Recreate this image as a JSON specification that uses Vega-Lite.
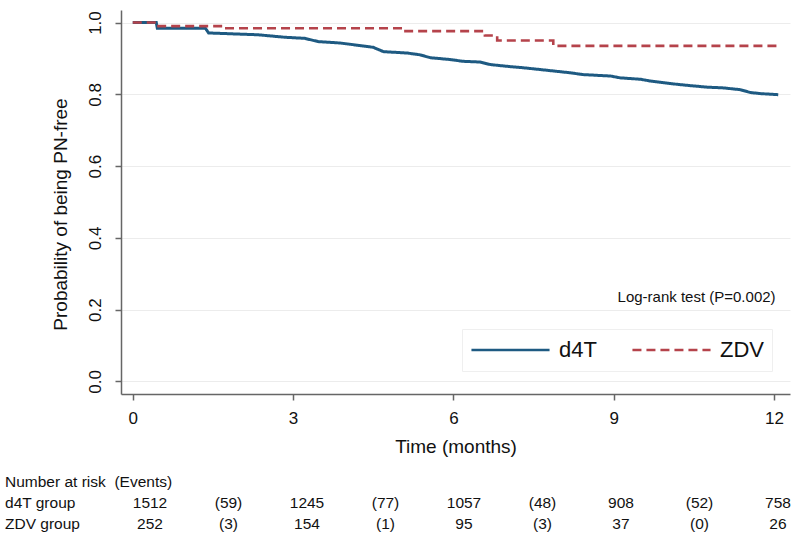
{
  "$schema": "https://vega.github.io/schema/vega-lite/v6.json",
  "background": "white",
  "padding": {"left": 5, "top": 10, "right": 5, "bottom": 2},
  "config": {
    "view": {"stroke": null},
    "font": "Liberation Sans",
    "concat": {"spacing": 16},
    "legend": {
      "orient": "none",
      "legendX": 341,
      "legendY": 319,
      "direction": "horizontal",
      "symbolType": "stroke",
      "symbolSize": 6100,
      "clipHeight": 26,
      "symbolStrokeWidth": 2.6,
      "labelFontSize": 22,
      "labelFont": "Liberation Sans",
      "labelOffset": 8,
      "columnPadding": 34,
      "strokeColor": "#efefef",
      "padding": 8,
      "labelColor": "#111111"
    }
  },
  "vconcat": [
    {
      "width": 669,
      "height": 384,
      "layer": [
        {
          "data": {
            "values": [
              {"group": "d4T", "month": 0, "surv": 1.0},
              {"group": "d4T", "month": 0.44, "surv": 1.0},
              {"group": "d4T", "month": 0.46, "surv": 0.984},
              {"group": "d4T", "month": 1.36, "surv": 0.984},
              {"group": "d4T", "month": 1.42, "surv": 0.971},
              {"group": "d4T", "month": 2.34, "surv": 0.966},
              {"group": "d4T", "month": 2.85, "surv": 0.959},
              {"group": "d4T", "month": 3.22, "surv": 0.956},
              {"group": "d4T", "month": 3.47, "surv": 0.947},
              {"group": "d4T", "month": 3.88, "surv": 0.943},
              {"group": "d4T", "month": 4.25, "surv": 0.936},
              {"group": "d4T", "month": 4.5, "surv": 0.931},
              {"group": "d4T", "month": 4.69, "surv": 0.919},
              {"group": "d4T", "month": 5.14, "surv": 0.915},
              {"group": "d4T", "month": 5.38, "surv": 0.91},
              {"group": "d4T", "month": 5.57, "surv": 0.902},
              {"group": "d4T", "month": 5.94, "surv": 0.897},
              {"group": "d4T", "month": 6.18, "surv": 0.892},
              {"group": "d4T", "month": 6.5, "surv": 0.89},
              {"group": "d4T", "month": 6.69, "surv": 0.883},
              {"group": "d4T", "month": 7.01, "surv": 0.878},
              {"group": "d4T", "month": 7.31, "surv": 0.874},
              {"group": "d4T", "month": 7.63, "surv": 0.869},
              {"group": "d4T", "month": 7.94, "surv": 0.864},
              {"group": "d4T", "month": 8.19, "surv": 0.86},
              {"group": "d4T", "month": 8.43, "surv": 0.855},
              {"group": "d4T", "month": 8.94, "surv": 0.851},
              {"group": "d4T", "month": 9.12, "surv": 0.846},
              {"group": "d4T", "month": 9.5, "surv": 0.842},
              {"group": "d4T", "month": 9.69, "surv": 0.837},
              {"group": "d4T", "month": 10.06, "surv": 0.83},
              {"group": "d4T", "month": 10.38, "surv": 0.825},
              {"group": "d4T", "month": 10.75, "surv": 0.82},
              {"group": "d4T", "month": 11.05, "surv": 0.818},
              {"group": "d4T", "month": 11.37, "surv": 0.813},
              {"group": "d4T", "month": 11.56, "surv": 0.805},
              {"group": "d4T", "month": 11.75, "surv": 0.802},
              {"group": "d4T", "month": 12.08, "surv": 0.799},
              {"group": "ZDV", "month": 0, "surv": 1.0},
              {"group": "ZDV", "month": 0.45, "surv": 0.99},
              {"group": "ZDV", "month": 1.72, "surv": 0.984},
              {"group": "ZDV", "month": 5.06, "surv": 0.976},
              {"group": "ZDV", "month": 6.59, "surv": 0.964},
              {"group": "ZDV", "month": 6.82, "surv": 0.95},
              {"group": "ZDV", "month": 7.87, "surv": 0.935},
              {"group": "ZDV", "month": 12.06, "surv": 0.935}
            ]
          },
          "encoding": {
            "x": {
              "field": "month",
              "type": "quantitative",
              "scale": {"domain": [-0.22, 12.3], "nice": false, "zero": false},
              "axis": {
                "values": [0, 3, 6, 9, 12],
                "title": "Time (months)",
                "grid": false,
                "labelFontSize": 17,
                "titleFontSize": 19,
                "titleFontWeight": "normal",
                "tickSize": 6,
                "labelPadding": 10,
                "titlePadding": 11,
                "domainColor": "#666666",
                "tickColor": "#666666",
                "domainWidth": 1.5,
                "tickWidth": 1.5,
                "labelColor": "#111111",
                "titleColor": "#111111"
              }
            },
            "y": {
              "field": "surv",
              "type": "quantitative",
              "scale": {"domain": [-0.035, 1.035], "nice": false, "zero": false},
              "axis": {
                "values": [0, 0.2, 0.4, 0.6, 0.8, 1.0],
                "format": ".1f",
                "title": "Probability of being PN-free",
                "labelAngle": -90,
                "labelAlign": "center",
                "labelBaseline": "bottom",
                "labelFontSize": 17,
                "titleFontSize": 19,
                "titleFontWeight": "normal",
                "titleY": 204,
                "grid": true,
                "gridColor": "#ececec",
                "tickSize": 6,
                "labelPadding": 11,
                "titlePadding": 16,
                "domainColor": "#666666",
                "tickColor": "#666666",
                "domainWidth": 1.5,
                "tickWidth": 1.5,
                "labelColor": "#111111",
                "titleColor": "#111111"
              }
            },
            "color": {
              "field": "group",
              "type": "nominal",
              "scale": {"domain": ["d4T", "ZDV"], "range": ["#1e5a82", "#b5434b"]},
              "legend": {"title": null}
            },
            "strokeDash": {
              "field": "group",
              "type": "nominal",
              "scale": {"domain": ["d4T", "ZDV"], "range": [[1, 0], [9, 5]]},
              "legend": {"title": null}
            }
          },
          "layer": [
            {
              "transform": [{"filter": "datum.group === 'd4T'"}],
              "mark": {"type": "line", "strokeWidth": 3, "interpolate": "linear"}
            },
            {
              "transform": [{"filter": "datum.group === 'ZDV'"}],
              "mark": {"type": "line", "strokeWidth": 2.6, "interpolate": "step-after"}
            }
          ]
        },
        {
          "data": {"values": [{"note": "Log-rank test (P=0.002)"}]},
          "mark": {"type": "text", "align": "right", "baseline": "middle", "fontSize": 15, "color": "#111111"},
          "encoding": {
            "x": {"datum": 12.03, "type": "quantitative"},
            "y": {"datum": 0.236, "type": "quantitative"},
            "text": {"field": "note", "type": "nominal"}
          }
        }
      ]
    },
    {
      "width": 669,
      "height": 62,
      "encoding": {
        "y": {
          "field": "row",
          "type": "nominal",
          "scale": {"type": "point", "domain": ["Number at risk\u00a0\u00a0(Events)", "d4T group", "ZDV group"], "padding": 0.5},
          "axis": null
        }
      },
      "layer": [
        {
          "data": {
            "values": [
              {"row": "d4T group", "col": 0, "label": "1512"},
              {"row": "d4T group", "col": 1, "label": "(59)"},
              {"row": "d4T group", "col": 2, "label": "1245"},
              {"row": "d4T group", "col": 3, "label": "(77)"},
              {"row": "d4T group", "col": 4, "label": "1057"},
              {"row": "d4T group", "col": 5, "label": "(48)"},
              {"row": "d4T group", "col": 6, "label": "908"},
              {"row": "d4T group", "col": 7, "label": "(52)"},
              {"row": "d4T group", "col": 8, "label": "758"},
              {"row": "ZDV group", "col": 0, "label": "252"},
              {"row": "ZDV group", "col": 1, "label": "(3)"},
              {"row": "ZDV group", "col": 2, "label": "154"},
              {"row": "ZDV group", "col": 3, "label": "(1)"},
              {"row": "ZDV group", "col": 4, "label": "95"},
              {"row": "ZDV group", "col": 5, "label": "(3)"},
              {"row": "ZDV group", "col": 6, "label": "37"},
              {"row": "ZDV group", "col": 7, "label": "(0)"},
              {"row": "ZDV group", "col": 8, "label": "26"}
            ]
          },
          "mark": {"type": "text", "fontSize": 15.5, "color": "#111111"},
          "encoding": {
            "x": {
              "field": "col",
              "type": "quantitative",
              "scale": {"domain": [-0.3694, 8.1529], "nice": false, "zero": false},
              "axis": null
            },
            "text": {"field": "label"}
          }
        },
        {
          "data": {"values": [{"row": "Number at risk\u00a0\u00a0(Events)"}, {"row": "d4T group"}, {"row": "ZDV group"}]},
          "mark": {"type": "text", "align": "left", "fontSize": 15.5, "color": "#111111"},
          "encoding": {
            "x": {"datum": -1.847, "type": "quantitative"},
            "text": {"field": "row"}
          }
        }
      ]
    }
  ]
}
